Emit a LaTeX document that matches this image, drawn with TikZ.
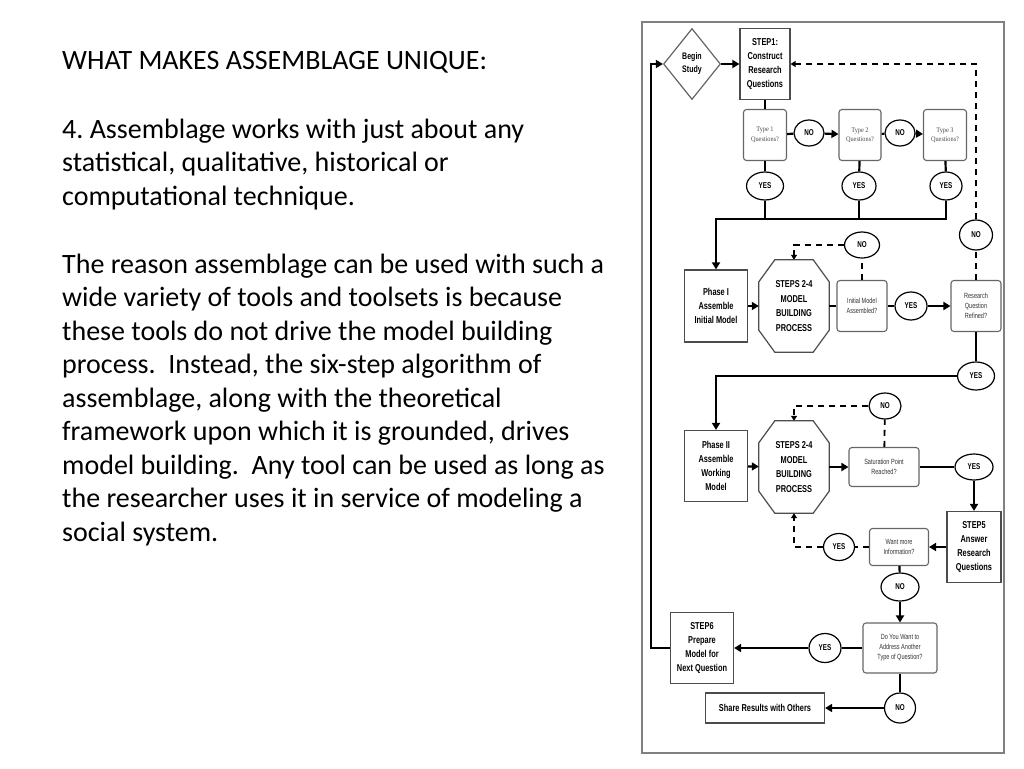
\documentclass[tikz,border=0pt]{standalone}
\usepackage{fontspec}
\setmainfont{Carlito}
\newfontfamily\flowfont[FakeStretch=0.74]{Liberation Sans}
\newfontfamily\askfont[FakeStretch=0.9]{Liberation Serif}
\usetikzlibrary{positioning,arrows.meta,shapes.geometric}
\frenchspacing

\tikzset{
  stepbox/.style={draw=black!70, line width=1.2pt, fill=white, align=center, inner sep=1pt,
    font=\flowfont\bfseries\fontsize{10}{14}\selectfont},
  askbox/.style={draw=black!60, line width=1.1pt, rounded corners=3pt, fill=white, align=center,
    inner sep=1pt, font=\flowfont\fontsize{7.5}{10}\selectfont, text=black!80},
  typebox/.style={askbox, font=\askfont\fontsize{7}{9.5}\selectfont, text=black!70},
  answer/.style={ellipse, draw=black, line width=1.2pt, fill=white, inner sep=0pt,
    font=\flowfont\bfseries\fontsize{8.5}{10}\selectfont},
  modelbox/.style={align=center, inner sep=0pt, minimum width=70, minimum height=92,
    font=\flowfont\bfseries\fontsize{10}{14.5}\selectfont},
  octline/.style={draw=black!70, line width=1.2pt, fill=white},
  flow/.style={line width=2.2pt},
  flowarrow/.style={flow, -{Triangle[length=7pt,width=8pt]}},
  back/.style={line width=1.8pt, dash pattern=on 6pt off 5pt},
  backarrow/.style={back, -{Triangle[length=5pt,width=6pt]}}
}
% octagon round a model node
\newcommand\octframe[1]{%
  \draw[octline] ([xshift=16pt]#1.north west) -- ([xshift=-16pt]#1.north east)
    -- ([yshift=-22pt]#1.north east) -- ([yshift=22pt]#1.south east)
    -- ([xshift=-16pt]#1.south east) -- ([xshift=16pt]#1.south west)
    -- ([yshift=22pt]#1.south west) -- ([yshift=-22pt]#1.north west) -- cycle;}

\begin{document}
\begin{tikzpicture}[x=1pt,y=-1pt]
\useasboundingbox (0,0) rectangle (1024,768);

% text on the left (anchored at the last line)
\begin{scope}[every node/.style={anchor=base west, align=left, inner sep=0pt,
    font=\fontsize{28}{33.5}\selectfont}]
\node (title) at (62,69) {WHAT MAKES ASSEMBLAGE UNIQUE:};
\node (point) at (62,205) {4. Assemblage works with just about any\\
  statistical, qualitative, historical or\\
  computational technique.};
\node (reason) at (62,541) {The reason assemblage can be used with such a\\
  wide variety of tools and toolsets is because\\
  these tools do not drive the model building\\
  process.\ \ Instead, the six-step algorithm of\\
  assemblage, along with the theoretical\\
  framework upon which it is grounded, drives\\
  model building.\ \ Any tool can be used as long as\\
  the researcher uses it in service of modeling a\\
  social system.};
\end{scope}

% flowchart frame
\draw[draw=black!50, line width=1.5pt] (642,22) rectangle (1004,753);

% nodes
\node (begin) [diamond, draw=black!60, line width=1.2pt, inner sep=0pt, minimum width=57, minimum height=71,
  align=center, font=\flowfont\bfseries\fontsize{9.5}{13}\selectfont] at (692,64) {Begin\\Study};
\node (step1) [stepbox, minimum width=50, minimum height=71] at (765,64) {STEP1:\\Construct\\Research\\Questions};
\node (type1) [typebox, minimum width=43, minimum height=51] at (765,135) {Type 1\\Questions?};
\node (no1) [answer, minimum width=30, minimum height=26] at (809,133) {NO};
\node (type2) [typebox, minimum width=42, minimum height=51] at (860,135) {Type 2\\Questions?};
\node (no2) [answer, minimum width=30, minimum height=26] at (900,133) {NO};
\node (type3) [typebox, minimum width=43, minimum height=51] at (945,135) {Type 3\\Questions?};
\node (yes1) [answer, minimum width=37, minimum height=28] at (765,186) {YES};
\node (yes2) [answer, minimum width=34, minimum height=28] at (859,186) {YES};
\node (yes3) [answer, minimum width=32, minimum height=28] at (946,186) {YES};
\coordinate (bus) at (716,219);

\node (phase1) [stepbox, minimum width=63, minimum height=72] at (716,306) {Phase I\\Assemble\\Initial Model};
\node (model1) [modelbox] at (794,306) {};
\octframe{model1}
\node (model1text) [modelbox] at (model1) {STEPS 2-4\\MODEL\\BUILDING\\PROCESS};
\node (initial) [askbox, minimum width=50, minimum height=51] at (862,306) {Initial Model\\Assembled?};
\node (yes4) [answer, minimum width=32, minimum height=28] at (911,306) {YES};
\node (refined) [askbox, minimum width=50, minimum height=51] at (976,306) {Research\\Question\\Refined?};
\node (no3) [answer, minimum width=35, minimum height=26] at (862,245) {NO};
\node (no4) [answer, minimum width=33, minimum height=30] at (976,235) {NO};
\node (yes5) [answer, minimum width=37, minimum height=28] at (976,376) {YES};

\node (phase2) [stepbox, minimum width=63, minimum height=71] at (716,466) {Phase II\\Assemble\\Working\\Model};
\node (model2) [modelbox] at (794,467) {};
\octframe{model2}
\node (model2text) [modelbox] at (model2) {STEPS 2-4\\MODEL\\BUILDING\\PROCESS};
\node (saturation) [askbox, minimum width=70, minimum height=39] at (884,467) {Saturation Point\\Reached?};
\node (no5) [answer, minimum width=32, minimum height=26] at (885,406) {NO};
\node (yes6) [answer, minimum width=38, minimum height=26] at (974,467) {YES};
\node (step5) [stepbox, minimum width=54, minimum height=71] at (974,547) {STEP5\\Answer\\Research\\Questions};
\node (more) [askbox, minimum width=59, minimum height=37] at (899,547) {Want more\\Information?};
\node (yes7) [answer, minimum width=31, minimum height=27] at (839,547) {YES};
\node (no6) [answer, minimum width=38, minimum height=28] at (900,587) {NO};
\node (another) [askbox, minimum width=74, minimum height=50] at (900,648) {Do You Want to\\Address Another\\Type of Question?};
\node (yes8) [answer, minimum width=32, minimum height=29] at (825,648) {YES};
\node (step6) [stepbox, minimum width=63, minimum height=71] at (702,648) {STEP6\\Prepare\\Model for\\Next Question};
\node (no7) [answer, minimum width=31, minimum height=30] at (900,708) {NO};
\node (share) [stepbox, minimum width=119, minimum height=30] at (765,708) {Share Results with Others};

% connectors
\draw[flowarrow] (begin) -- (step1);
\draw[flow] (step1) -- (type1);
\draw[flow] (type1) -- (no1);
\draw[flowarrow] (no1) -- (type2);
\draw[flow] (type2) -- (no2);
\draw[flowarrow] (no2) -- (type3);
\draw[flow] (type1) -- (yes1);
\draw[flow] (type2) -- (yes2);
\draw[flow] (type3) -- (yes3);
\draw[flow] (yes1.south) -- (yes1.south |- bus);
\draw[flow] (yes2.south) -- (yes2.south |- bus);
\draw[flowarrow] (yes3.south) |- (bus) -- (phase1.north);

\draw[flowarrow] (phase1) -- (model1);
\draw[flow] (model1) -- (initial);
\draw[flow] (initial) -- (yes4);
\draw[flowarrow] (yes4) -- (refined);
\draw[back] (initial) -- (no3);
\draw[backarrow] (no3.west) -| (model1.north);
\draw[back] (refined) -- (no4);
\draw[backarrow] (no4.north) |- (step1.east);
\draw[flow] (refined) -- (yes5);
\draw[flowarrow] (yes5.west) -| (phase2.north);

\draw[flowarrow] (phase2) -- (model2);
\draw[flowarrow] (model2) -- (saturation);
\draw[flow] (saturation) -- (yes6);
\draw[back] (saturation) -- (no5);
\draw[backarrow] (no5.west) -| (model2.north);
\draw[flowarrow] (yes6) -- (step5);
\draw[flowarrow] (step5) -- (more);
\draw[back] (more) -- (yes7);
\draw[backarrow] (yes7.west) -| (model2.south);
\draw[flow] (more) -- (no6);
\draw[flowarrow] (no6) -- (another);
\draw[flow] (another) -- (yes8);
\draw[flowarrow] (yes8) -- (step6);
\draw[flowarrow] (step6.west) -- ++(-19,0) |- (begin.west);
\draw[flow] (another) -- (no7);
\draw[flowarrow] (no7) -- (share);
\end{tikzpicture}
\end{document}
